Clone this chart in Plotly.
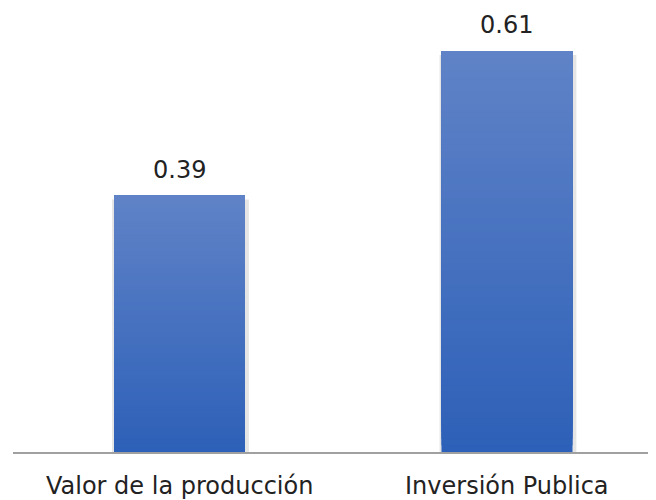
import plotly.graph_objects as go

categories = ["Valor de la producción", "Inversión Publica"]
values = [0.39, 0.61]
value_labels = ["0.39", "0.61"]

top_rgb = (96, 131, 199)
bot_rgb = (45, 96, 184)
N = 60

def mix(t):
    r = [round(bot_rgb[k] + (top_rgb[k] - bot_rgb[k]) * t) for k in range(3)]
    return f"rgb({r[0]},{r[1]},{r[2]})"

fig = go.Figure()
# soft shadow
fig.add_trace(go.Bar(x=categories, y=values, base=[-0.006] * len(values), width=0.418,
                     offset=-0.206, marker=dict(color="rgba(0,0,0,0.10)", line=dict(width=0)),
                     hoverinfo="skip", showlegend=False))
for i in range(N):
    fig.add_trace(go.Bar(
        x=categories,
        y=[v * (N - i) / N for v in values],
        base=[v * i / N for v in values],
        width=0.4,
        offset=-0.2,
        marker=dict(color=mix((i + 0.5) / N), line=dict(width=0)),
        hoverinfo="skip", showlegend=False))

FONT = "DejaVu Sans"
annotations = []
for c, v, t in zip(categories, values, value_labels):
    annotations.append(dict(x=c, y=v, xref="x", yref="y", text=t, showarrow=False,
                            yanchor="middle", yshift=26,
                            font=dict(size=24, color="#222222", family=FONT)))
    annotations.append(dict(x=c, y=0, xref="x", yref="paper", text=c, showarrow=False,
                            yanchor="middle", yshift=-34,
                            font=dict(size=24, color="#222222", family=FONT)))

fig.update_layout(
    width=648, height=492, autosize=False,
    barmode="overlay",
    plot_bgcolor="white", paper_bgcolor="white",
    margin=dict(l=5, r=0, t=0, b=48),
    font=dict(family=FONT, color="#222222", size=24),
    xaxis=dict(range=[-0.5084, 1.455], showgrid=False, zeroline=False,
               showline=True, linecolor="#a0a0a0", linewidth=1.5, ticks="",
               showticklabels=False),
    yaxis=dict(range=[0, 0.6754], visible=False, showgrid=False, zeroline=False),
    annotations=annotations,
)

fig.write_html("out.html")
